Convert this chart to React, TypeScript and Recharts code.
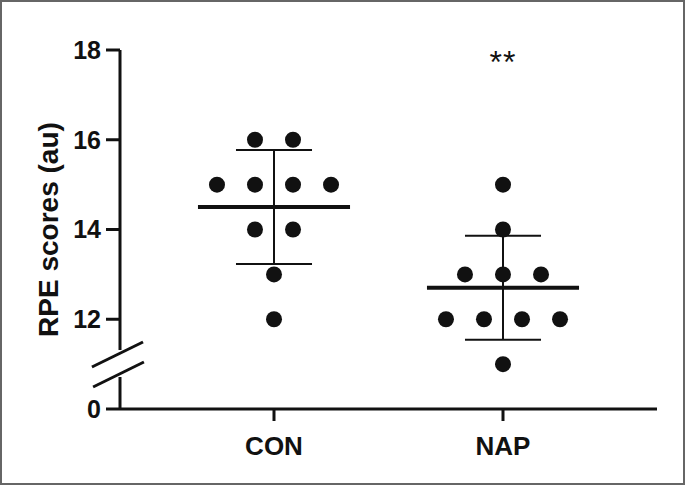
import { ScatterChart, Scatter, XAxis, YAxis, ReferenceLine, ReferenceDot } from "recharts";

// groups on the x axis
const groups = ["CON", "NAP"];
// individual RPE scores per group
const conScores = [16, 16, 15, 15, 15, 15, 14, 14, 13, 12];
const napScores = [15, 14, 13, 13, 13, 12, 12, 12, 12, 11];
// y axis ticks (bottom tick sits below the axis break and reads 0)
const yTicks = [10, 12, 14, 16, 18];
const yTickLabels = ["0", "12", "14", "16", "18"];
const significance = "**";

const font = "'Liberation Sans', Arial, sans-serif";
const ink = "#111";

const xMin = 0.3275;
const xMax = 2.6725;
const dotGap = 0.166;

function mean(v: number[]) {
    return v.reduce((a, b) => a + b, 0) / v.length;
}
function sd(v: number[]) {
    const m = mean(v);
    return Math.sqrt(v.reduce((a, b) => a + (b - m) * (b - m), 0) / (v.length - 1));
}

// spread equal values side by side like a dot plot
function spread(scores: number[], center: number) {
    const counts: Record<number, number> = {};
    scores.forEach(s => (counts[s] = (counts[s] || 0) + 1));
    const used: Record<number, number> = {};
    return scores.map(s => {
        const k = used[s] || 0;
        used[s] = k + 1;
        return { x: center + (k - (counts[s] - 1) / 2) * dotGap, y: s };
    });
}

const allScores = [conScores, napScores];

const Dot = (props: any) => <circle cx={props.cx} cy={props.cy} r={8} fill={ink} />;

const YLabel = (props: any) => {
    const vb = props.viewBox || {};
    const cx = (vb.x ?? 0) + (vb.width ?? 120) * 0.4;
    const cy = (vb.y ?? 50) + (vb.height ?? 359) / 2;
    return (
        <text x={cx} y={cy} transform={`rotate(-90 ${cx} ${cy})`} textAnchor="middle" dominantBaseline="central"
            fill={ink} fontSize={28} fontWeight="bold" fontFamily={font}>
            RPE scores (au)
        </text>
    );
};

export default function App() {
    return (
        <div style={{ position: "absolute", left: 0, top: 0, width: 685, height: 485, background: "#fff" }}>
            <ScatterChart width={685} height={485} margin={{ top: 50, right: 28, bottom: 16, left: 0 }}>
                <XAxis type="number" dataKey="x" domain={[xMin, xMax]} ticks={[1, 2]} allowDataOverflow
                    tickFormatter={(v: number) => groups[v - 1]} height={60}
                    axisLine={{ stroke: ink, strokeWidth: 3 }} tickLine={{ stroke: ink, strokeWidth: 3 }}
                    tickSize={12} tickMargin={16}
                    tick={{ fill: ink, fontSize: 26, fontWeight: "bold", fontFamily: font }} />
                <YAxis type="number" dataKey="y" domain={[10, 18]} ticks={yTicks} interval={0} width={120}
                    tickFormatter={(v: number) => yTickLabels[yTicks.indexOf(v)]}
                    axisLine={false} tickLine={{ stroke: ink, strokeWidth: 3 }} tickSize={14} tickMargin={5}
                    tick={{ fill: ink, fontSize: 25, fontWeight: "bold", fontFamily: font }}
                    label={{ content: YLabel }} />

                {/* y axis line with break */}
                <ReferenceLine segment={[{ x: xMin, y: 18 }, { x: xMin, y: 11.315 }]} stroke={ink} strokeWidth={3} ifOverflow="visible" />
                <ReferenceLine segment={[{ x: xMin, y: 10.713 }, { x: xMin, y: 10 }]} stroke={ink} strokeWidth={3} ifOverflow="visible" />
                <ReferenceLine segment={[{ x: 0.205, y: 10.936 }, { x: 0.428, y: 11.493 }]} stroke={ink} strokeWidth={3} ifOverflow="visible" />
                <ReferenceLine segment={[{ x: 0.21, y: 10.49 }, { x: 0.432, y: 11.047 }]} stroke={ink} strokeWidth={3} ifOverflow="visible" />

                {allScores.map((s, i) => {
                    const c = i + 1;
                    const m = mean(s);
                    const d = sd(s);
                    return [
                        <ReferenceLine key={`sd${i}`} segment={[{ x: c, y: m - d }, { x: c, y: m + d }]} stroke={ink} strokeWidth={2} />,
                        <ReferenceLine key={`hi${i}`} segment={[{ x: c - dotGap, y: m + d }, { x: c + dotGap, y: m + d }]} stroke={ink} strokeWidth={2} />,
                        <ReferenceLine key={`lo${i}`} segment={[{ x: c - dotGap, y: m - d }, { x: c + dotGap, y: m - d }]} stroke={ink} strokeWidth={2} />,
                        <ReferenceLine key={`m${i}`} segment={[{ x: c - 2 * dotGap, y: m }, { x: c + 2 * dotGap, y: m }]} stroke={ink} strokeWidth={4} />,
                    ];
                })}

                {allScores.map((s, i) => (
                    <Scatter key={groups[i]} name={groups[i]} data={spread(s, i + 1)} shape={Dot} isAnimationActive={false} />
                ))}

                <ReferenceDot x={2} y={17.75} r={0} stroke="none" fill="none"
                    label={{ value: significance, position: "center", fill: ink, fontSize: 32, fontFamily: font, letterSpacing: 1 }} />
            </ScatterChart>
            <div style={{ position: "absolute", left: 0, top: 0, width: 685, height: 485, boxSizing: "border-box", border: "2px solid #666", pointerEvents: "none" }} />
        </div>
    );
}
